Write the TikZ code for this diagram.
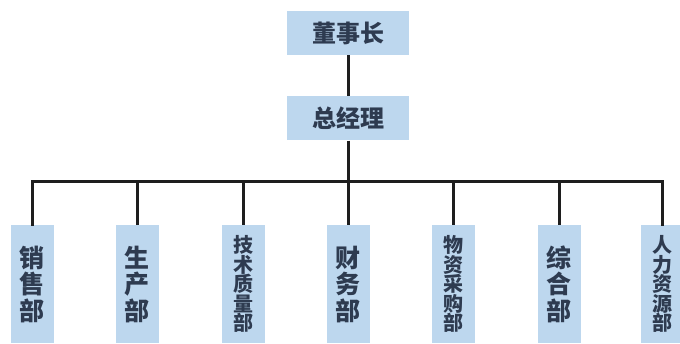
\documentclass[tikz,border=0pt]{standalone}
\usepackage{fontspec}
\usepackage{xcolor}
\usepackage{tikz}
\newfontfamily\cjk{Noto Sans CJK SC}
\definecolor{boxblue}{HTML}{BDD7EE}
\definecolor{inkblue}{HTML}{2E3B50}
\definecolor{wire}{HTML}{1E1E1E}

\begin{document}
\begin{tikzpicture}[x=1pt,y=1pt]
\useasboundingbox (0,0) rectangle (680,343);

\tikzstyle{head}=[
	font=\cjk\bfseries\fontsize{24}{26}\selectfont,
	text=inkblue,
	fill=boxblue,
	rectangle,
	minimum width=122pt,
	minimum height=44pt,
	inner sep=0pt
]
\tikzstyle{dept}=[
	font=\cjk\bfseries\fontsize{25}{26.5}\selectfont,
	text=inkblue,
	fill=boxblue,
	rectangle,
	align=center,
	anchor=north,
	minimum width=43pt,
	minimum height=118pt,
	inner sep=0pt
]
\tikzstyle{deptlong}=[
	dept,
	font=\cjk\bfseries\fontsize{20}{19.5}\selectfont
]
\tikzstyle{link}=[draw=wire,line width=3pt]

%% TOP
\node (chair) [head] at (348,310) {董事长};
\node (gm) [head] at (348,224.5) {总经理};

%% DEPARTMENTS
\node (sales) [dept] at (32,118) {销\\售\\部};
\node (prod) [dept] at (137,118) {生\\产\\部};
\node (tech) [deptlong] at (243,118) {技\\术\\质\\量\\部};
\node (fin) [dept] at (348,118) {财\\务\\部};
\node (purch) [deptlong] at (453,118) {物\\资\\采\\购\\部};
\node (admin) [dept] at (559,118) {综\\合\\部};
\node (hr) [deptlong] at (662,118) {人\\力\\资\\源\\部};

%% LINKS
\coordinate (bus) at (348,161);
\draw[link] (chair.south) -- (gm.north);
\draw[link] (gm.south) -- (bus);
\draw[link,line cap=rect] (sales.north) |- (bus) -| (hr.north);
\draw[link] (bus) -| (prod.north);
\draw[link] (bus) -| (tech.north);
\draw[link] (bus) -- (fin.north);
\draw[link] (bus) -| (purch.north);
\draw[link] (bus) -| (admin.north);

\end{tikzpicture}
\end{document}
